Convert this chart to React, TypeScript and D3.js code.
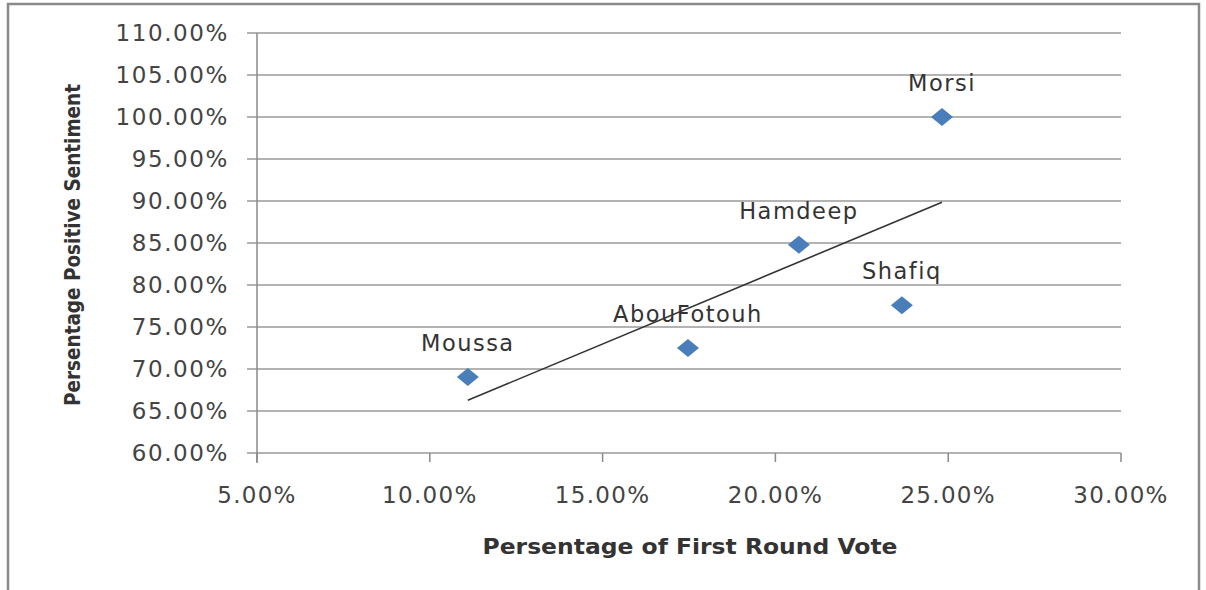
import * as d3 from "d3";

const names = ["Moussa", "AbouFotouh", "Hamdeep", "Shafiq", "Morsi"];
const firstRound = [0.111, 0.1747, 0.2068, 0.2366, 0.2482];
const sentiment = [0.6905, 0.725, 0.848, 0.776, 1.0];
const xTicks = [0.05, 0.1, 0.15, 0.2, 0.25, 0.3];
const yTicks = [0.6, 0.65, 0.7, 0.75, 0.8, 0.85, 0.9, 0.95, 1.0, 1.05, 1.1];

const App = () => {
  const width = 1206,
    height = 590;
  const left = 257,
    right = 1121,
    top = 33,
    bottom = 453;

  const x = d3.scaleLinear([0.05, 0.3], [left, right]);
  const y = d3.scaleLinear([0.6, 1.1], [bottom, top]);
  const fmt = d3.format(".2%");

  // least squares trendline
  const mx = d3.mean(firstRound)!;
  const my = d3.mean(sentiment)!;
  const sxy = d3.sum(firstRound, (v, i) => (v - mx) * (sentiment[i] - my));
  const sxx = d3.sum(firstRound, (v) => (v - mx) ** 2);
  const slope = sxy / sxx;
  const icpt = my - slope * mx;
  const [x0, x1] = d3.extent(firstRound) as [number, number];
  const trend = d3.line<number>((d) => x(d), (d) => y(icpt + slope * d));

  const diamond = "M0,-9L11,0L0,9L-11,0Z";

  return (
    <svg
      width={width}
      height={height}
      style={{ position: "absolute", left: 0, top: 0, background: "#fff" }}
      fontFamily="DejaVu Sans, sans-serif"
    >
      <rect x={8} y={4} width={1191} height={600} fill="#fff" stroke="#8a8a8a" strokeWidth={2.5} />

      {yTicks.map((t) => (
        <g key={t}>
          <line x1={left - 10} x2={right} y1={y(t)} y2={y(t)} stroke="#9a9a9a" strokeWidth={1.5} />
          <text x={229} y={y(t)} dy="0.36em" textAnchor="end" fontSize={23} letterSpacing={1.6} fill="#444">
            {fmt(t)}
          </text>
        </g>
      ))}

      <line x1={left} x2={left} y1={top} y2={bottom + 10} stroke="#8a8a8a" strokeWidth={1.5} />

      {xTicks.map((t) => (
        <g key={t}>
          <line x1={x(t)} x2={x(t)} y1={bottom} y2={bottom + 9} stroke="#8a8a8a" strokeWidth={1.5} />
          <text x={x(t)} y={495} dy="0.36em" textAnchor="middle" fontSize={23} letterSpacing={1.3} fill="#444">
            {fmt(t)}
          </text>
        </g>
      ))}

      <path d={trend([x0, x1])!} fill="none" stroke="#333" strokeWidth={1.6} />

      {names.map((n, i) => (
        <g key={n}>
          <path
            d={diamond}
            transform={`translate(${x(firstRound[i])},${y(sentiment[i])})`}
            fill="#4a7ebb"
          />
          <text
            x={x(firstRound[i])}
            y={y(sentiment[i]) - 34}
            dy="0.36em"
            textAnchor="middle"
            fontSize={22.5}
            letterSpacing={1.5}
            fill="#333"
          >
            {n}
          </text>
        </g>
      ))}

      <text
        x={690}
        y={546}
        dy="0.36em"
        textAnchor="middle"
        fontSize={21}
        fontWeight="bold"
        fill="#333"
        textLength={415}
        lengthAdjust="spacingAndGlyphs"
      >
        Persentage of First Round Vote
      </text>
      <text
        transform="translate(72,245) rotate(-90)"
        dy="0.36em"
        textAnchor="middle"
        fontSize={21}
        fontWeight="bold"
        fill="#333"
        textLength={322}
        lengthAdjust="spacingAndGlyphs"
      >
        Persentage Positive Sentiment
      </text>
    </svg>
  );
};

export default App;
